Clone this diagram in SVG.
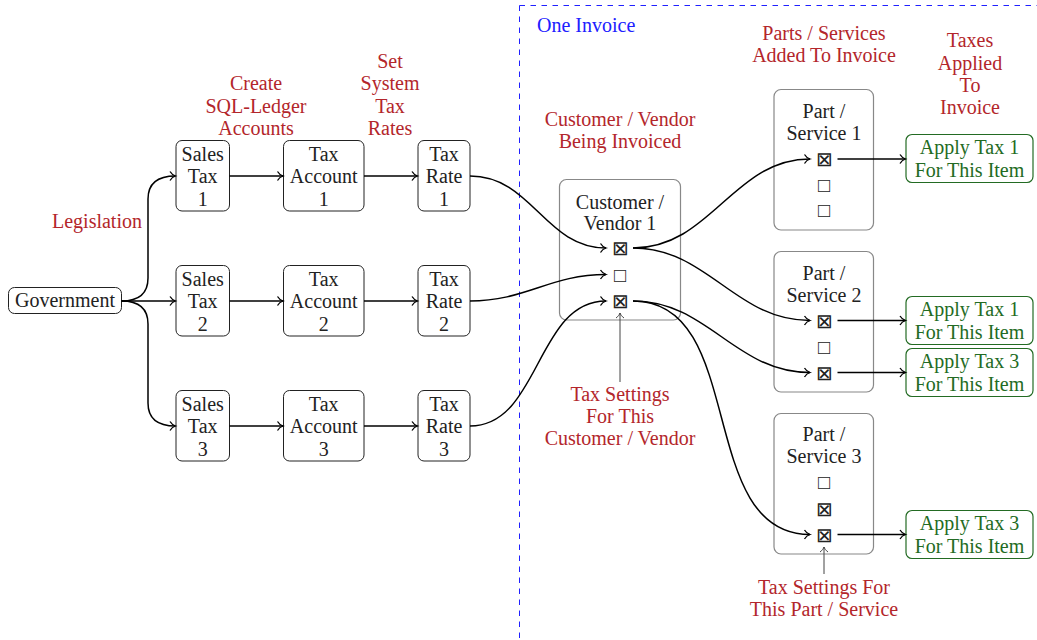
<svg xmlns="http://www.w3.org/2000/svg" width="1037" height="640" viewBox="0 0 1037 640">
<defs>
<marker id="ah" markerUnits="userSpaceOnUse" viewBox="-7 -6 9 12" markerWidth="9" markerHeight="12" refX="0" refY="0" orient="auto" overflow="visible">
<path d="M-5.5,-4.5 C-4,-2 -1.5,-0.5 0,0 C-1.5,0.5 -4,2 -5.5,4.5" fill="none" stroke="#000" stroke-width="1.3"/>
</marker>
<marker id="ah2" markerUnits="userSpaceOnUse" viewBox="-7 -6 9 12" markerWidth="9" markerHeight="12" refX="0" refY="0" orient="auto" overflow="visible">
<path d="M-5,-4 C-3.5,-1.8 -1.3,-0.4 0,0 C-1.3,0.4 -3.5,1.8 -5,4" fill="none" stroke="#444" stroke-width="1"/>
</marker>
</defs>
<rect width="1037" height="640" fill="#fff"/>

<g id="frame" fill="none" stroke="#2020ff" stroke-width="1" stroke-dasharray="5.5 5.5">
<path d="M519.5,5.5 L519.5,640"/>
<path d="M519.5,5.5 L1037,5.5"/>
</g>

<g id="frame-label">
<text x="537" y="31.5" fill="#2020ff" font-family="Liberation Serif" font-size="20">One Invoice</text>
</g>

<g id="labels" fill="#b3262b">
<text x="97" y="228" text-anchor="middle" font-family="Liberation Serif" font-size="20">Legislation</text>
<text x="256" y="90" text-anchor="middle" font-family="Liberation Serif" font-size="20">Create</text>
<text x="256" y="112.5" text-anchor="middle" font-family="Liberation Serif" font-size="20">SQL-Ledger</text>
<text x="256" y="135" text-anchor="middle" font-family="Liberation Serif" font-size="20">Accounts</text>
<text x="390" y="67.5" text-anchor="middle" font-family="Liberation Serif" font-size="20">Set</text>
<text x="390" y="90" text-anchor="middle" font-family="Liberation Serif" font-size="20">System</text>
<text x="390" y="112.5" text-anchor="middle" font-family="Liberation Serif" font-size="20">Tax</text>
<text x="390" y="135" text-anchor="middle" font-family="Liberation Serif" font-size="20">Rates</text>
<text x="620" y="126" text-anchor="middle" font-family="Liberation Serif" font-size="20">Customer / Vendor</text>
<text x="620" y="148" text-anchor="middle" font-family="Liberation Serif" font-size="20">Being Invoiced</text>
<text x="620" y="401" text-anchor="middle" font-family="Liberation Serif" font-size="20">Tax Settings</text>
<text x="620" y="423" text-anchor="middle" font-family="Liberation Serif" font-size="20">For This</text>
<text x="620" y="445" text-anchor="middle" font-family="Liberation Serif" font-size="20">Customer / Vendor</text>
<text x="824" y="40" text-anchor="middle" font-family="Liberation Serif" font-size="20">Parts / Services</text>
<text x="824" y="62" text-anchor="middle" font-family="Liberation Serif" font-size="20">Added To Invoice</text>
<text x="970" y="47" text-anchor="middle" font-family="Liberation Serif" font-size="20">Taxes</text>
<text x="970" y="69.5" text-anchor="middle" font-family="Liberation Serif" font-size="20">Applied</text>
<text x="970" y="92" text-anchor="middle" font-family="Liberation Serif" font-size="20">To</text>
<text x="970" y="114" text-anchor="middle" font-family="Liberation Serif" font-size="20">Invoice</text>
<text x="824" y="593.5" text-anchor="middle" font-family="Liberation Serif" font-size="20">Tax Settings For</text>
<text x="824" y="616" text-anchor="middle" font-family="Liberation Serif" font-size="20">This Part / Service</text>
</g>

<g id="government">
<rect x="8.5" y="287.5" width="113" height="26" rx="6" fill="#fff" stroke="#222"/>
<text x="65" y="307" fill="#222" text-anchor="middle" font-family="Liberation Serif" font-size="20">Government</text>
</g>

<g id="salestax1">
<rect x="176" y="140.5" width="53.5" height="70.5" rx="6" fill="#fff" stroke="#222"/>
<text x="202.7" y="160.5" fill="#222" text-anchor="middle" font-family="Liberation Serif" font-size="20">Sales</text>
<text x="202.7" y="183" fill="#222" text-anchor="middle" font-family="Liberation Serif" font-size="20">Tax</text>
<text x="202.7" y="205.5" fill="#222" text-anchor="middle" font-family="Liberation Serif" font-size="20">1</text>
</g>
<g id="salestax2">
<rect x="176" y="265.5" width="53.5" height="70.5" rx="6" fill="#fff" stroke="#222"/>
<text x="202.7" y="285.5" fill="#222" text-anchor="middle" font-family="Liberation Serif" font-size="20">Sales</text>
<text x="202.7" y="308" fill="#222" text-anchor="middle" font-family="Liberation Serif" font-size="20">Tax</text>
<text x="202.7" y="330.5" fill="#222" text-anchor="middle" font-family="Liberation Serif" font-size="20">2</text>
</g>
<g id="salestax3">
<rect x="176" y="390.5" width="53.5" height="70.5" rx="6" fill="#fff" stroke="#222"/>
<text x="202.7" y="410.5" fill="#222" text-anchor="middle" font-family="Liberation Serif" font-size="20">Sales</text>
<text x="202.7" y="433" fill="#222" text-anchor="middle" font-family="Liberation Serif" font-size="20">Tax</text>
<text x="202.7" y="455.5" fill="#222" text-anchor="middle" font-family="Liberation Serif" font-size="20">3</text>
</g>

<g id="taxaccount1">
<rect x="283.5" y="140.5" width="80.5" height="70.5" rx="6" fill="#fff" stroke="#222"/>
<text x="323.7" y="160.5" fill="#222" text-anchor="middle" font-family="Liberation Serif" font-size="20">Tax</text>
<text x="323.7" y="183" fill="#222" text-anchor="middle" font-family="Liberation Serif" font-size="20">Account</text>
<text x="323.7" y="205.5" fill="#222" text-anchor="middle" font-family="Liberation Serif" font-size="20">1</text>
</g>
<g id="taxaccount2">
<rect x="283.5" y="265.5" width="80.5" height="70.5" rx="6" fill="#fff" stroke="#222"/>
<text x="323.7" y="285.5" fill="#222" text-anchor="middle" font-family="Liberation Serif" font-size="20">Tax</text>
<text x="323.7" y="308" fill="#222" text-anchor="middle" font-family="Liberation Serif" font-size="20">Account</text>
<text x="323.7" y="330.5" fill="#222" text-anchor="middle" font-family="Liberation Serif" font-size="20">2</text>
</g>
<g id="taxaccount3">
<rect x="283.5" y="390.5" width="80.5" height="70.5" rx="6" fill="#fff" stroke="#222"/>
<text x="323.7" y="410.5" fill="#222" text-anchor="middle" font-family="Liberation Serif" font-size="20">Tax</text>
<text x="323.7" y="433" fill="#222" text-anchor="middle" font-family="Liberation Serif" font-size="20">Account</text>
<text x="323.7" y="455.5" fill="#222" text-anchor="middle" font-family="Liberation Serif" font-size="20">3</text>
</g>

<g id="taxrate1">
<rect x="418" y="140.5" width="52" height="70.5" rx="6" fill="#fff" stroke="#222"/>
<text x="444" y="160.5" fill="#222" text-anchor="middle" font-family="Liberation Serif" font-size="20">Tax</text>
<text x="444" y="183" fill="#222" text-anchor="middle" font-family="Liberation Serif" font-size="20">Rate</text>
<text x="444" y="205.5" fill="#222" text-anchor="middle" font-family="Liberation Serif" font-size="20">1</text>
</g>
<g id="taxrate2">
<rect x="418" y="265.5" width="52" height="70.5" rx="6" fill="#fff" stroke="#222"/>
<text x="444" y="285.5" fill="#222" text-anchor="middle" font-family="Liberation Serif" font-size="20">Tax</text>
<text x="444" y="308" fill="#222" text-anchor="middle" font-family="Liberation Serif" font-size="20">Rate</text>
<text x="444" y="330.5" fill="#222" text-anchor="middle" font-family="Liberation Serif" font-size="20">2</text>
</g>
<g id="taxrate3">
<rect x="418" y="390.5" width="52" height="70.5" rx="6" fill="#fff" stroke="#222"/>
<text x="444" y="410.5" fill="#222" text-anchor="middle" font-family="Liberation Serif" font-size="20">Tax</text>
<text x="444" y="433" fill="#222" text-anchor="middle" font-family="Liberation Serif" font-size="20">Rate</text>
<text x="444" y="455.5" fill="#222" text-anchor="middle" font-family="Liberation Serif" font-size="20">3</text>
</g>

<g id="customer">
<rect x="559.5" y="179.5" width="121" height="140.5" rx="7" fill="#fff" stroke="#888" stroke-width="1.2"/>
<text x="620" y="208.5" fill="#222" text-anchor="middle" font-family="Liberation Serif" font-size="20">Customer /</text>
<text x="620" y="230" fill="#222" text-anchor="middle" font-family="Liberation Serif" font-size="20">Vendor 1</text>
<text x="620" y="255" fill="#222" text-anchor="middle" font-family="Liberation Serif" font-size="20">⊠</text>
<text x="620" y="281.5" fill="#222" text-anchor="middle" font-family="Liberation Serif" font-size="20">□</text>
<text x="620" y="308" fill="#222" text-anchor="middle" font-family="Liberation Serif" font-size="20">⊠</text>
</g>

<g id="part1">
<rect x="774" y="89.5" width="99.5" height="140.5" rx="7" fill="#fff" stroke="#888" stroke-width="1.2"/>
<text x="824" y="117.5" fill="#222" text-anchor="middle" font-family="Liberation Serif" font-size="20">Part /</text>
<text x="824" y="139.5" fill="#222" text-anchor="middle" font-family="Liberation Serif" font-size="20">Service 1</text>
<text x="824" y="166" fill="#222" text-anchor="middle" font-family="Liberation Serif" font-size="20">⊠</text>
<text x="824" y="191.5" fill="#222" text-anchor="middle" font-family="Liberation Serif" font-size="20">□</text>
<text x="824" y="217" fill="#222" text-anchor="middle" font-family="Liberation Serif" font-size="20">□</text>
</g>
<g id="part2">
<rect x="774" y="251.5" width="99.5" height="140.5" rx="7" fill="#fff" stroke="#888" stroke-width="1.2"/>
<text x="824" y="280" fill="#222" text-anchor="middle" font-family="Liberation Serif" font-size="20">Part /</text>
<text x="824" y="301.5" fill="#222" text-anchor="middle" font-family="Liberation Serif" font-size="20">Service 2</text>
<text x="824" y="327.5" fill="#222" text-anchor="middle" font-family="Liberation Serif" font-size="20">⊠</text>
<text x="824" y="353.5" fill="#222" text-anchor="middle" font-family="Liberation Serif" font-size="20">□</text>
<text x="824" y="379.5" fill="#222" text-anchor="middle" font-family="Liberation Serif" font-size="20">⊠</text>
</g>
<g id="part3">
<rect x="774" y="413.5" width="99.5" height="140.5" rx="7" fill="#fff" stroke="#888" stroke-width="1.2"/>
<text x="824" y="441" fill="#222" text-anchor="middle" font-family="Liberation Serif" font-size="20">Part /</text>
<text x="824" y="463" fill="#222" text-anchor="middle" font-family="Liberation Serif" font-size="20">Service 3</text>
<text x="824" y="489" fill="#222" text-anchor="middle" font-family="Liberation Serif" font-size="20">□</text>
<text x="824" y="515.5" fill="#222" text-anchor="middle" font-family="Liberation Serif" font-size="20">⊠</text>
<text x="824" y="541.5" fill="#222" text-anchor="middle" font-family="Liberation Serif" font-size="20">⊠</text>
</g>

<g id="apply1">
<rect x="906" y="134.5" width="127" height="48" rx="6" fill="#fff" stroke="#236b23" stroke-width="1.2"/>
<text x="969.5" y="154" fill="#236b23" text-anchor="middle" font-family="Liberation Serif" font-size="20">Apply Tax 1</text>
<text x="969.5" y="176.5" fill="#236b23" text-anchor="middle" font-family="Liberation Serif" font-size="20">For This Item</text>
</g>
<g id="apply2">
<rect x="906" y="296.5" width="127" height="48" rx="6" fill="#fff" stroke="#236b23" stroke-width="1.2"/>
<text x="969.5" y="316" fill="#236b23" text-anchor="middle" font-family="Liberation Serif" font-size="20">Apply Tax 1</text>
<text x="969.5" y="338.5" fill="#236b23" text-anchor="middle" font-family="Liberation Serif" font-size="20">For This Item</text>
</g>
<g id="apply3">
<rect x="906" y="348.5" width="127" height="48" rx="6" fill="#fff" stroke="#236b23" stroke-width="1.2"/>
<text x="969.5" y="368" fill="#236b23" text-anchor="middle" font-family="Liberation Serif" font-size="20">Apply Tax 3</text>
<text x="969.5" y="390.5" fill="#236b23" text-anchor="middle" font-family="Liberation Serif" font-size="20">For This Item</text>
</g>
<g id="apply4">
<rect x="906" y="510.5" width="127" height="48" rx="6" fill="#fff" stroke="#236b23" stroke-width="1.2"/>
<text x="969.5" y="530" fill="#236b23" text-anchor="middle" font-family="Liberation Serif" font-size="20">Apply Tax 3</text>
<text x="969.5" y="552.5" fill="#236b23" text-anchor="middle" font-family="Liberation Serif" font-size="20">For This Item</text>
</g>

<g id="connectors" fill="none" stroke="#000" stroke-width="1.5" marker-end="url(#ah)">
<path d="M121.5,301 C140,301 148,293 148,278 L148,199 C148,184 156,176 175.5,176"/>
<path d="M121.5,301 L175.5,301"/>
<path d="M121.5,301 C140,301 148,309 148,324 L148,403 C148,418 156,426 175.5,426"/>
<path d="M229.5,176 L283,176"/>
<path d="M229.5,301 L283,301"/>
<path d="M229.5,426 L283,426"/>
<path d="M364,176 L417.5,176"/>
<path d="M364,301 L417.5,301"/>
<path d="M364,426 L417.5,426"/>
<path d="M470,176 C532,176 545,248 606,248"/>
<path d="M470,301 C526,301 550,274.5 606,274.5"/>
<path d="M470,426 C540,426 536,301 606,301"/>
<path d="M633,248 C711,248 733,159 810,159"/>
<path d="M633,248 C708,248 735,320.5 810,320.5"/>
<path d="M633,301 C708,301 735,372.5 810,372.5"/>
<path d="M633,301 C748,301 695,534.5 810,534.5"/>
<path d="M837.5,159 L905.5,159"/>
<path d="M837.5,320.5 L905.5,320.5"/>
<path d="M837.5,372.5 L905.5,372.5"/>
<path d="M837.5,534.5 L905.5,534.5"/>
<path d="M620,382 L620,313" stroke="#444" stroke-width="1" marker-end="url(#ah2)"/>
<path d="M824,574 L824,547" stroke="#444" stroke-width="1" marker-end="url(#ah2)"/>
</g>
</svg>
